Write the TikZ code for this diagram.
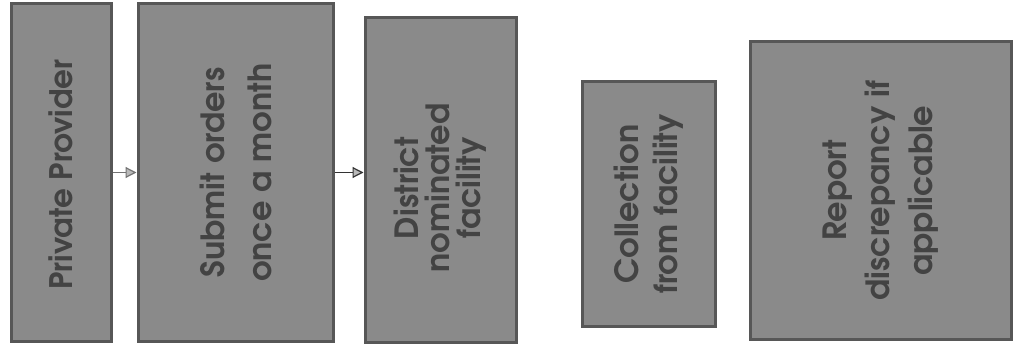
\documentclass[tikz,border=0pt]{standalone}
\usepackage{fontspec}
\setmainfont{texgyreadventor-bold.otf}
\usetikzlibrary{arrows.meta}
\definecolor{boxfill}{HTML}{8A8A8A}
\definecolor{boxline}{HTML}{575757}
\definecolor{boxtext}{HTML}{434343}
\begin{document}
\begin{tikzpicture}[x=1pt,y=-1pt,
  stepbox/.style={draw=boxline, line width=3pt, fill=boxfill, inner sep=0pt},
  steptext/.style={rotate=90, text=boxtext, align=center},
  flow/.style={draw=black!80, line width=1.2pt, -{Triangle[length=11pt,width=11pt,fill=gray!55]}}]
\useasboundingbox (0,0) rectangle (1013,345);
% process boxes (page coordinates, y downwards)
\node[stepbox, minimum width=100pt, minimum height=338pt] (b1) at (61,172.5) {};
\node[stepbox, minimum width=195pt, minimum height=338pt] (b2) at (235.5,172.5) {};
\node[stepbox, minimum width=151pt, minimum height=324pt] (b3) at (440.5,180) {};
\node[stepbox, minimum width=133pt, minimum height=244pt] (b4) at (648.5,204) {};
\node[stepbox, minimum width=261pt, minimum height=297pt] (b5) at (880.5,190.5) {};
% vertical labels
\node[steptext, font=\fontsize{31}{40}\selectfont] (t1) at ([yshift=-2]b1.center) {Private Provider};
\node[steptext, font=\fontsize{32}{47}\selectfont] (t2) at (b2.center) {Submit orders\\once a month};
\node[steptext, font=\fontsize{32}{31}\selectfont] (t3) at ([yshift=-8]b3.center) {District\\nominated\\facility};
\node[steptext, font=\fontsize{32}{39}\selectfont] (t4) at (b4.center) {Collection\\from facility};
\node[steptext, font=\fontsize{32}{43}\selectfont] (t5) at (b5.center) {Report\\discrepancy if\\applicable};
% connectors
\draw[flow, draw=black!55] (b1.east) -- (b2.west);
\draw[flow] (b2.east) -- (b2.east -| b3.west);
\end{tikzpicture}
\end{document}
